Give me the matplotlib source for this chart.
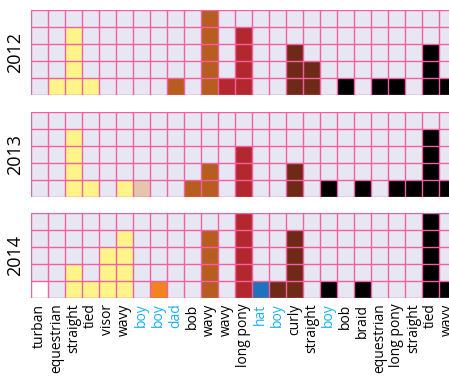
import matplotlib
matplotlib.use("Agg")
import matplotlib.pyplot as plt

plt.rcParams['font.family'] = ['Open Sans', 'DejaVu Sans']

categories = ["turban", "equestrian", "straight", "tied", "visor", "wavy",
              "boy", "boy", "dad", "bob", "wavy", "wavy", "long pony", "hat",
              "boy", "curly", "straight", "boy", "bob", "braid", "equestrian",
              "long pony", "straight", "tied", "wavy"]
highlight_idx = [6, 7, 8, 13, 14, 17]

years = ["2012", "2013", "2014"]

counts_2012 = [0, 1, 4, 1, 0, 0, 0, 0, 1, 0, 5, 1, 4, 0, 0, 3, 2, 0, 1, 0, 1, 1, 0, 3, 1]
counts_2013 = [0, 0, 4, 1, 0, 1, 1, 0, 0, 1, 2, 0, 3, 0, 0, 2, 0, 1, 0, 1, 0, 1, 1, 4, 1]
counts_2014 = [1, 0, 2, 1, 3, 4, 0, 1, 0, 0, 4, 0, 5, 1, 1, 4, 0, 1, 0, 1, 0, 0, 0, 5, 1]

palette = {
    "yellow": "#fff48a",
    "brown": "#b75d20",
    "red": "#b5272e",
    "maroon": "#6f2a17",
    "black": "#000000",
    "orange": "#f28222",
    "tan": "#e4c5ae",
    "blue": "#1f73bc",
    "white": "#ffffff",
}

base_colors = ["white", "yellow", "yellow", "yellow", "yellow", "yellow",
               "tan", "orange", "brown", "brown", "brown", "red", "red", "blue",
               "maroon", "maroon", "maroon", "black", "black", "black", "black",
               "black", "black", "black", "black"]

counts = {"2012": counts_2012, "2013": counts_2013, "2014": counts_2014}

cell_bg = "#e7e7f3"
grid_color = "#f2609f"
n_rows = 5
n_cols = len(categories)

W, H = 449, 376
fig = plt.figure(figsize=(W / 100, H / 100), dpi=100)
fig.patch.set_facecolor("white")

left_px = 31
cell_px = 17
panel_tops = [10, 112, 213]

axes = []
for year, top in zip(years, panel_tops):
    ax = fig.add_axes([left_px / W, 1 - (top + n_rows * cell_px) / H,
                       n_cols * cell_px / W, n_rows * cell_px / H])
    ax.set_facecolor(cell_bg)
    xs = list(range(n_cols))
    ax.bar(xs, counts[year], width=1.0, bottom=0,
           color=[palette[c] for c in base_colors], linewidth=0, zorder=1)
    for i in range(n_cols + 1):
        ax.axvline(i - 0.5, color=grid_color, lw=1.0, zorder=3)
    for j in range(n_rows + 1):
        ax.axhline(j, color=grid_color, lw=1.0, zorder=3)
    ax.set_xlim(-0.5, n_cols - 0.5)
    ax.set_ylim(0, n_rows)
    ax.set_yticks([])
    ax.tick_params(length=0)
    for s in ax.spines.values():
        s.set_visible(False)
    ax.set_ylabel(year, fontsize=13, labelpad=5)
    ax.set_xticks(xs)
    ax.set_xticklabels([])
    axes.append(ax)

last = axes[-1]
last.set_xticklabels(categories, rotation=90, fontsize=10, va="top", ha="center")
last.tick_params(axis="x", pad=4)
for i, lbl in enumerate(last.get_xticklabels()):
    if i in highlight_idx:
        lbl.set_color("#1ab0f0")

fig.savefig("out.png", dpi=100)
